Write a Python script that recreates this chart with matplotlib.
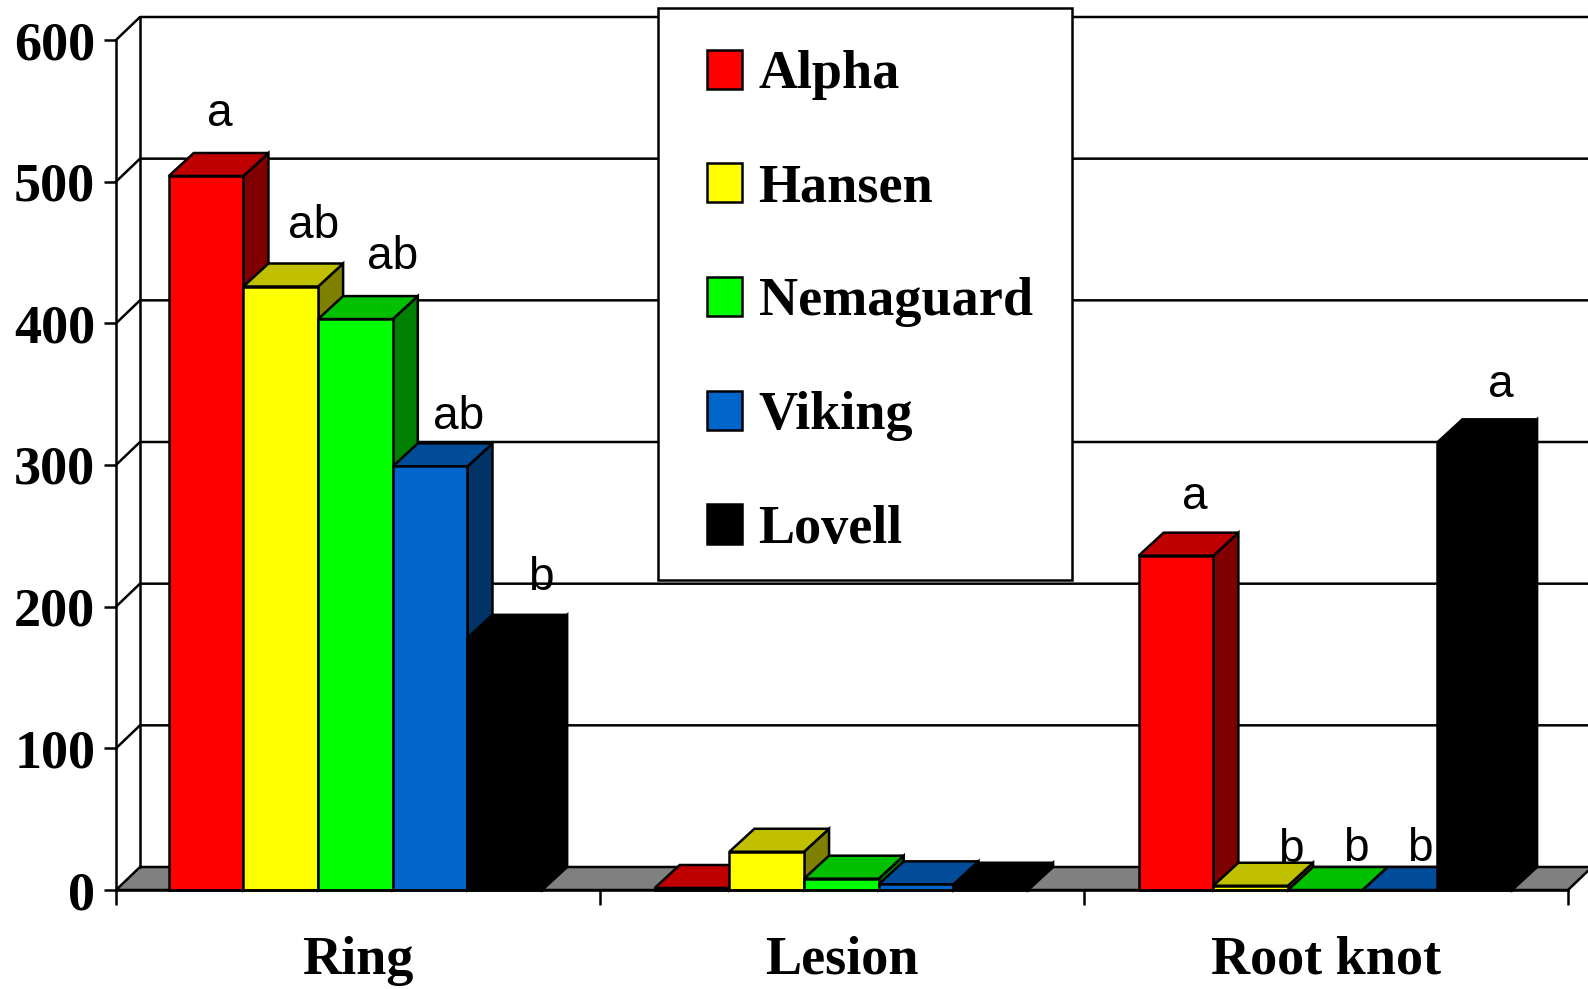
import numpy as np
import matplotlib
matplotlib.use('Agg')
import matplotlib.pyplot as plt
from matplotlib.patches import Polygon, Patch, Rectangle

categories = ['Ring', 'Lesion', 'Root knot']
rootstocks = ['Alpha', 'Hansen', 'Nemaguard', 'Viking', 'Lovell']

alpha = [504, 1.4, 236]
hansen = [426, 27, 3]
nemaguard = [403, 8, 0]
viking = [299, 4, 0]
lovell = [178, 3, 316]
series = [alpha, hansen, nemaguard, viking, lovell]

# significance letters per category, one per rootstock
letters = [['a', 'ab', 'ab', 'ab', 'b'],
           ['', '', '', '', ''],
           ['a', 'b', 'b', 'b', 'a']]
yticks = [0, 100, 200, 300, 400, 500, 600]

front = ['#FF0000', '#FFFF00', '#00FF00', '#0066CC', '#000000']
top = ['#C00000', '#C0C000', '#00C000', '#004C99', '#000000']
side = ['#800000', '#808000', '#008000', '#003366', '#000000']

# label nudges in pixels, from the back top corner of each bar
letter_dx = [[2, 21, 25, 16, 24], [0, 0, 0, 0, 0], [7, 28, 18, 8, 14]]
letter_dy = [[27, 26, 27, 14, 25], [0, 0, 0, 0, 0], [24, 1, 6, 6, 22]]

W, H = 1588, 989
fig = plt.figure(figsize=(W / 100, H / 100), dpi=100)
ax = fig.add_axes([116 / W, (H - 890) / H, (1568 - 116) / W, 850 / H])
ax.set_xlim(0, 3)
ax.set_ylim(0, 600)

dx = 24 / (1452 / 3)
dy = 23 / (850 / 600)
bar_dx = 25 / (1452 / 3)
bar_w = 0.1543
group_left = [0.109, 1.113, 2.113]
lw = 1.8

# back wall and floor
ax.add_patch(Polygon([(0, 0), (3, 0), (3 + dx, dy), (dx, dy)], closed=True,
                     facecolor='#808080', edgecolor='black', lw=lw,
                     clip_on=False, zorder=1))
for v in yticks[1:]:
    ax.plot([0, dx, 3 + 2 * dx], [v, v + dy, v + dy], color='black', lw=lw,
            clip_on=False, zorder=1)
ax.plot([dx, dx], [dy, 600 + dy], color='black', lw=lw, clip_on=False, zorder=1)

# fake 3d bars, left to right so each one overlaps the last
z = 2
for g in range(len(categories)):
    for s in range(len(series)):
        v = series[s][g]
        x0 = group_left[g] + s * bar_w
        x1 = x0 + bar_w
        ax.add_patch(Polygon([(x1, 0), (x1 + bar_dx, dy), (x1 + bar_dx, v + dy), (x1, v)],
                             closed=True, facecolor=side[s], edgecolor='black',
                             lw=lw, clip_on=False, zorder=z))
        ax.add_patch(Polygon([(x0, v), (x1, v), (x1 + bar_dx, v + dy), (x0 + bar_dx, v + dy)],
                             closed=True, facecolor=top[s], edgecolor='black',
                             lw=lw, clip_on=False, zorder=z))
        ax.bar(x0, v, width=bar_w, align='edge', color=front[s], edgecolor='black',
               lw=lw, clip_on=False, zorder=z)
        z += 1
        if letters[g][s]:
            ax.annotate(letters[g][s], (x0 + bar_w / 2 + dx / 2, v + dy),
                        xytext=(letter_dx[g][s], letter_dy[g][s]),
                        textcoords='offset pixels', ha='center', va='baseline',
                        fontsize=33, family='Liberation Sans', zorder=50)

for sp in ['top', 'right']:
    ax.spines[sp].set_visible(False)
for sp in ['left', 'bottom']:
    ax.spines[sp].set_linewidth(lw)
    ax.spines[sp].set_zorder(40)

tickfont = dict(family='Liberation Serif', weight='bold', size=39)
ax.set_yticks(yticks)
ax.set_yticklabels([str(v) for v in yticks], **tickfont)
ax.tick_params(axis='y', length=9, width=lw, pad=6)
ax.set_xticks([0, 1, 2, 3])
ax.set_xticklabels([])
ax.tick_params(axis='x', which='major', length=10.8, width=lw)
ax.set_xticks([0.5, 1.5, 2.5], minor=True)
ax.set_xticklabels(categories, minor=True, **tickfont)
ax.tick_params(axis='x', which='minor', length=0, pad=33)

# legend frame is drawn apart, its padding is not even on all sides
fig.add_artist(Rectangle((658 / W, (H - 580) / H), 414 / W, 572 / H,
                         transform=fig.transFigure, facecolor='white',
                         edgecolor='black', lw=lw, zorder=55))
handles = [Patch(facecolor=c, edgecolor='black', lw=lw) for c in front]
leg = fig.legend(handles, rootstocks, loc='upper left',
                 bbox_to_anchor=(707 / W, (H - 49.5) / H), borderaxespad=0,
                 prop=dict(family='Liberation Serif', weight='bold', size=39),
                 frameon=False, handlelength=0.646, handleheight=0.738,
                 handletextpad=0.306, labelspacing=1.166, borderpad=0)
leg.set_zorder(60)

fig.savefig('out.png', dpi=100)
